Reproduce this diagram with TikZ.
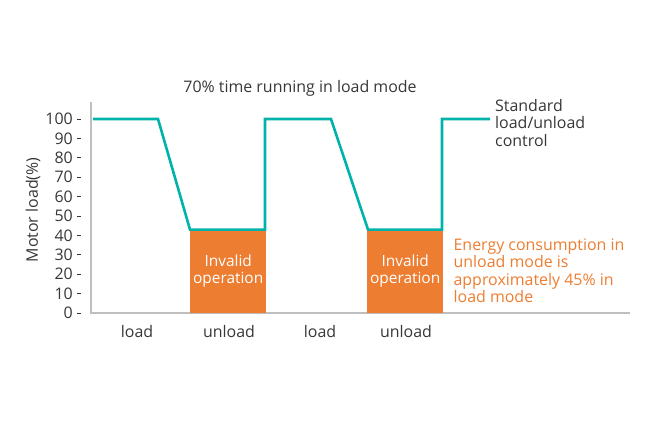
\documentclass[tikz,border=0pt]{standalone}
\usepackage{fontspec}
\setmainfont{Open Sans}
\usetikzlibrary{positioning}
\definecolor{loadline}{RGB}{0,178,169}
\definecolor{invalidbox}{RGB}{237,125,49}
\definecolor{axisgray}{RGB}{191,191,191}
\definecolor{labelgray}{RGB}{55,55,55}
\tikzset{
  lbl/.style={text=labelgray,font=\fontsize{16}{17.3}\selectfont},
  invalid/.style={fill=invalidbox,text=white,minimum width=76bp,minimum height=84bp,inner sep=0pt,anchor=south west,align=center,font=\fontsize{15.5}{17}\selectfont},
}
\begin{document}
\begin{tikzpicture}[x=1bp,y=1bp]
\useasboundingbox (0,0) rectangle (650,428);
\coordinate (O) at (91,115);
\coordinate (ytop) at (91,326);
\coordinate (xend) at (630,115);
\draw[axisgray,line width=2.5bp] (ytop) -- (O) -- (xend);

\foreach \v in {0,10,...,100}
  {\node[lbl,left,inner sep=0pt] (T\v) at (73,115+1.94*\v) {\v};
   \draw[labelgray,line width=0.8bp] ([xshift=4bp]T\v.east) -- ++(3.5,0);}

\node[lbl,rotate=90] (ylab) at (33,218) {Motor load(\%)};
\node[lbl] (title) at (300,340) {70\% time running in load mode};

\node[invalid] (B1) at (190,115) {Invalid\\operation};
\node[invalid] (B2) at (367,115) {Invalid\\operation};

\foreach \x/\p [count=\n] in {93/100,158/100,190/43,265/43,265/100,331/100,368/43,442/43,442/100,490/100}
  \coordinate (P\n) at (\x,115+1.94*\p);
\draw[loadline,line width=2.6bp] (P1) \foreach \n in {2,...,10}{ -- (P\n)};

\node[lbl,right=5bp of P10,yshift=-4bp,align=left,inner sep=0pt] (std) {Standard\\load/unload\\control};
\node[lbl,text=invalidbox,right=10bp of B2,align=left,inner sep=0pt] (note) {Energy consumption in\\unload mode is\\approximately 45\% in\\load mode};

\foreach \t/\x [count=\n] in {load/137,unload/229,load/320,unload/406}
  \node[lbl] (L\n) at (\x,96) {\t};
\end{tikzpicture}
\end{document}
